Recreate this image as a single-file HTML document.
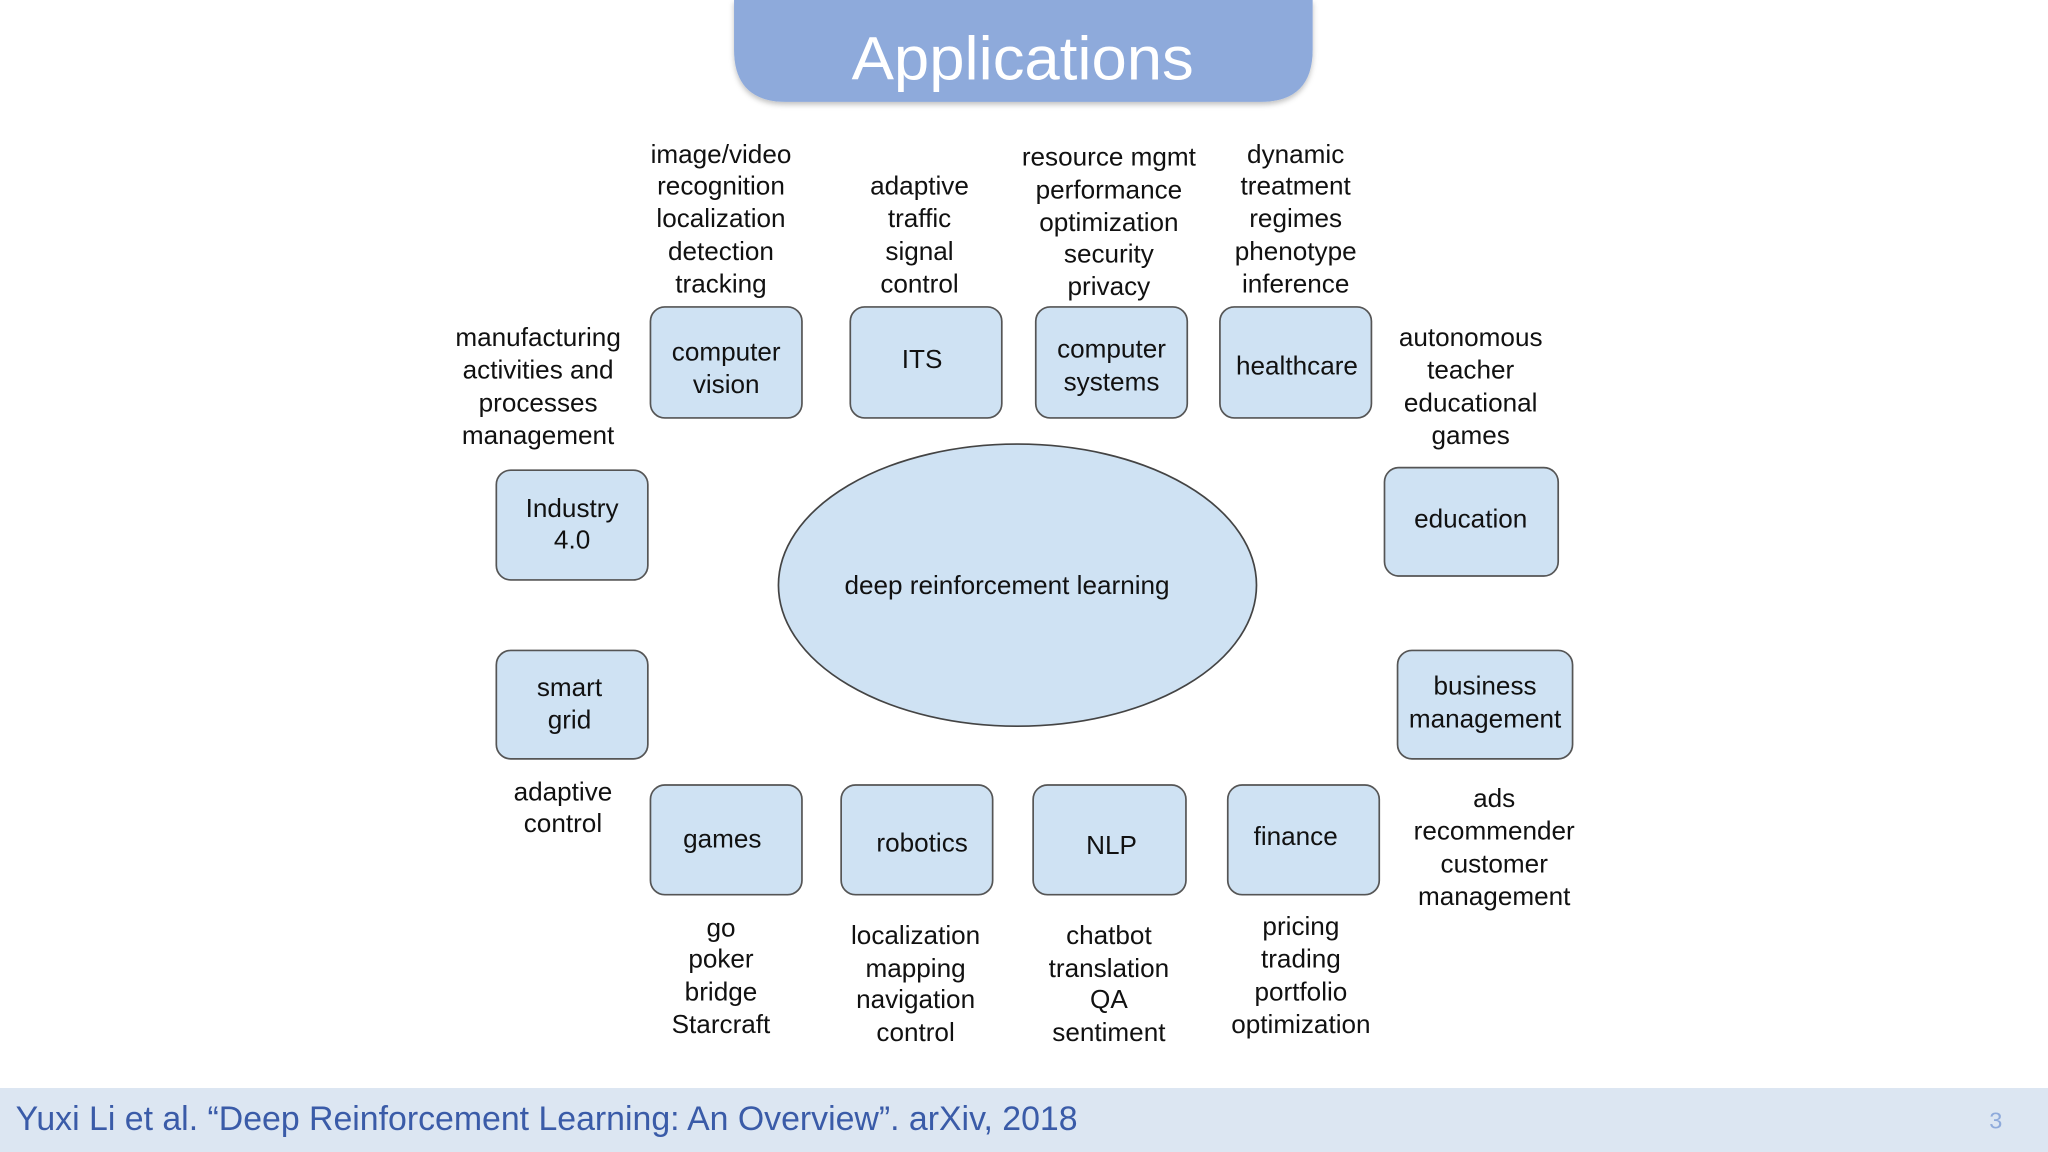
<!DOCTYPE html>
<html><head><meta charset="utf-8">
<style>
html,body{margin:0;padding:0;background:#fff;width:2048px;height:1152px;overflow:hidden}
svg{display:block}
text{font-family:"Liberation Sans",Arial,sans-serif}
</style></head>
<body>
<svg width="2048" height="1152" viewBox="0 0 1568 882" xmlns="http://www.w3.org/2000/svg">
<defs>
<filter id="sh" x="-10%" y="-10%" width="120%" height="140%"><feDropShadow dx="0" dy="2" stdDeviation="2" flood-color="#000" flood-opacity="0.25"/></filter>
</defs>
<rect width="1568" height="882" fill="#fff"/>
<path d="M562 0 H1005 V38 Q1005 78 965 78 H602 Q562 78 562 38 Z" fill="#8eaadb" filter="url(#sh)"/>
<text x="652" y="61" font-size="47" fill="#fff" textLength="262" lengthAdjust="spacingAndGlyphs">Applications</text>
<rect x="0" y="833" width="1568" height="49" fill="#dce6f2"/>
<text x="12" y="865" font-size="26" fill="#3a5ba8" textLength="813" lengthAdjust="spacingAndGlyphs">Yuxi Li et al. “Deep Reinforcement Learning: An Overview”. arXiv, 2018</text>
<text x="1528" y="864" font-size="18" fill="#8eaadb" text-anchor="middle">3</text>
<ellipse cx="779" cy="448" rx="183" ry="108" fill="#cfe2f3" stroke="#444" stroke-width="1.3"/>
<g font-size="20" fill="#111" text-anchor="middle" dominant-baseline="central">
<text x="771" y="448">deep reinforcement learning</text>
</g>
<g fill="#cfe2f3" stroke="#555" stroke-width="1.3">
<rect x="498" y="235" width="116" height="85" rx="11"/>
<rect x="651" y="235" width="116" height="85" rx="11"/>
<rect x="793" y="235" width="116" height="85" rx="11"/>
<rect x="934" y="235" width="116" height="85" rx="11"/>
<rect x="380" y="360" width="116" height="84" rx="11"/>
<rect x="1060" y="358" width="133" height="83" rx="11"/>
<rect x="380" y="498" width="116" height="83" rx="11"/>
<rect x="1070" y="498" width="134" height="83" rx="11"/>
<rect x="498" y="601" width="116" height="84" rx="11"/>
<rect x="644" y="601" width="116" height="84" rx="11"/>
<rect x="791" y="601" width="117" height="84" rx="11"/>
<rect x="940" y="601" width="116" height="84" rx="11"/>
</g>
<g font-size="20" fill="#111" text-anchor="middle" dominant-baseline="central">
<text x="556" y="269">computer</text><text x="556" y="294">vision</text>
<text x="706" y="275">ITS</text>
<text x="851" y="267">computer</text><text x="851" y="292">systems</text>
<text x="993" y="280">healthcare</text>
<text x="438" y="389">Industry</text><text x="438" y="413">4.0</text>
<text x="1126" y="397">education</text>
<text x="436" y="526">smart</text><text x="436" y="551">grid</text>
<text x="1137" y="525">business</text><text x="1137" y="550">management</text>
<text x="553" y="642">games</text>
<text x="706" y="645">robotics</text>
<text x="851" y="647">NLP</text>
<text x="992" y="640">finance</text>
<text x="552" y="118">image/video</text><text x="552" y="142">recognition</text><text x="552" y="167">localization</text><text x="552" y="192">detection</text><text x="552" y="217">tracking</text>
<text x="704" y="142">adaptive</text><text x="704" y="167">traffic</text><text x="704" y="192">signal</text><text x="704" y="217">control</text>
<text x="849" y="120">resource mgmt</text><text x="849" y="145">performance</text><text x="849" y="170">optimization</text><text x="849" y="194">security</text><text x="849" y="219">privacy</text>
<text x="992" y="118">dynamic</text><text x="992" y="142">treatment</text><text x="992" y="167">regimes</text><text x="992" y="192">phenotype</text><text x="992" y="217">inference</text>
<text x="412" y="258">manufacturing</text><text x="412" y="283">activities and</text><text x="412" y="308">processes</text><text x="412" y="333">management</text>
<text x="1126" y="258">autonomous</text><text x="1126" y="283">teacher</text><text x="1126" y="308">educational</text><text x="1126" y="333">games</text>
<text x="431" y="606">adaptive</text><text x="431" y="630">control</text>
<text x="1144" y="611">ads</text><text x="1144" y="636">recommender</text><text x="1144" y="661">customer</text><text x="1144" y="686">management</text>
<text x="552" y="710">go</text><text x="552" y="734">poker</text><text x="552" y="759">bridge</text><text x="552" y="784">Starcraft</text>
<text x="701" y="716">localization</text><text x="701" y="741">mapping</text><text x="701" y="765">navigation</text><text x="701" y="790">control</text>
<text x="849" y="716">chatbot</text><text x="849" y="741">translation</text><text x="849" y="765">QA</text><text x="849" y="790">sentiment</text>
<text x="996" y="709">pricing</text><text x="996" y="734">trading</text><text x="996" y="759">portfolio</text><text x="996" y="784">optimization</text>
</g>
</svg>
</body></html>
